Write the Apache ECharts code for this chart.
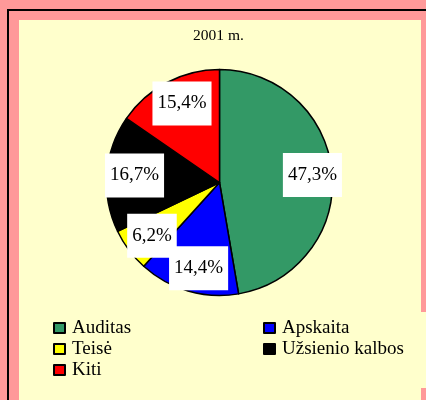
<!DOCTYPE html>
<html>
<head>
<meta charset="utf-8">
<script src="https://cdn.jsdelivr.net/npm/echarts@6/dist/echarts.min.js"></script>
<style>
  html, body { margin: 0; padding: 0; }
  #chart { width: 426px; height: 400px; }
</style>
</head>
<body>
<div id="chart"></div>
<script>
const categories = ["Auditas", "Apskaita", "Teisė", "Užsienio kalbos", "Kiti"];
const values = [47.3, 14.4, 6.2, 16.7, 15.4];
const colors = ["#339966", "#0000ff", "#ffff00", "#000000", "#ff0000"];
const legendLeft = ["Auditas", "Teisė", "Kiti"];
const legendRight = ["Apskaita", "Užsienio kalbos"];
const title = "2001 m.";

const serif = "'Liberation Serif', 'Times New Roman', serif";
const pieCenter = [219.5, 182.5];

const chart = echarts.init(document.getElementById("chart"));

const legendBase = {
  orient: "vertical",
  top: 317.5,
  padding: 0,
  itemGap: 0,
  itemWidth: 11,
  itemHeight: 10,
  icon: "rect",
  itemStyle: { borderColor: "#000", borderWidth: 2 },
  textStyle: {
    fontFamily: serif,
    fontSize: 19,
    color: "#000",
    lineHeight: 15,
    padding: [0, 0, 6, 2]
  }
};

const option = {
  backgroundColor: "#ff9999",
  animation: false,
  title: {
    text: title,
    left: 193,
    top: 27.5,
    padding: 0,
    textStyle: { fontFamily: serif, fontSize: 15.5, fontWeight: "normal", color: "#000" }
  },
  graphic: [
    { type: "rect", z: 0, shape: { x: 8, y: 10, width: 430, height: 400 },
      style: { fill: null, stroke: "#000", lineWidth: 2 } },
    { type: "rect", z: 0, shape: { x: 19, y: 20, width: 402, height: 380 },
      style: { fill: "#ffffcc" } },
    { type: "rect", z: 0, shape: { x: 300, y: 312, width: 126, height: 76 },
      style: { fill: "#ffffcc" } }
  ],
  legend: [
    Object.assign({}, legendBase, { data: legendLeft, left: 53 }),
    Object.assign({}, legendBase, { data: legendRight, left: 263 })
  ],
  series: [{
    type: "pie",
    center: pieCenter,
    radius: 113,
    startAngle: 90,
    clockwise: true,
    silent: true,
    emphasis: { disabled: true },
    itemStyle: { borderColor: "#000", borderWidth: 1.5 },
    label: {
      show: true,
      position: "inside",
      fontFamily: serif,
      fontSize: 19,
      color: "#000",
      lineHeight: 19,
      backgroundColor: "#fff",
      padding: [5, 5, 20, 5],
      formatter: p => p.value.toFixed(1).replace(".", ",") + "%"
    },
    // push the inside labels out to about 3/4 of the radius
    labelLayout: p => {
      const r = p.labelRect;
      const lx = r.x + r.width / 2;
      const ly = r.y + r.height / 2;
      return { dx: (lx - pieCenter[0]) * 0.5 + 4, dy: (ly - pieCenter[1]) * 0.5 };
    },
    data: categories.map((name, i) => ({
      name: name,
      value: values[i],
      itemStyle: { color: colors[i] }
    }))
  }]
};

chart.setOption(option);
</script>
</body>
</html>
